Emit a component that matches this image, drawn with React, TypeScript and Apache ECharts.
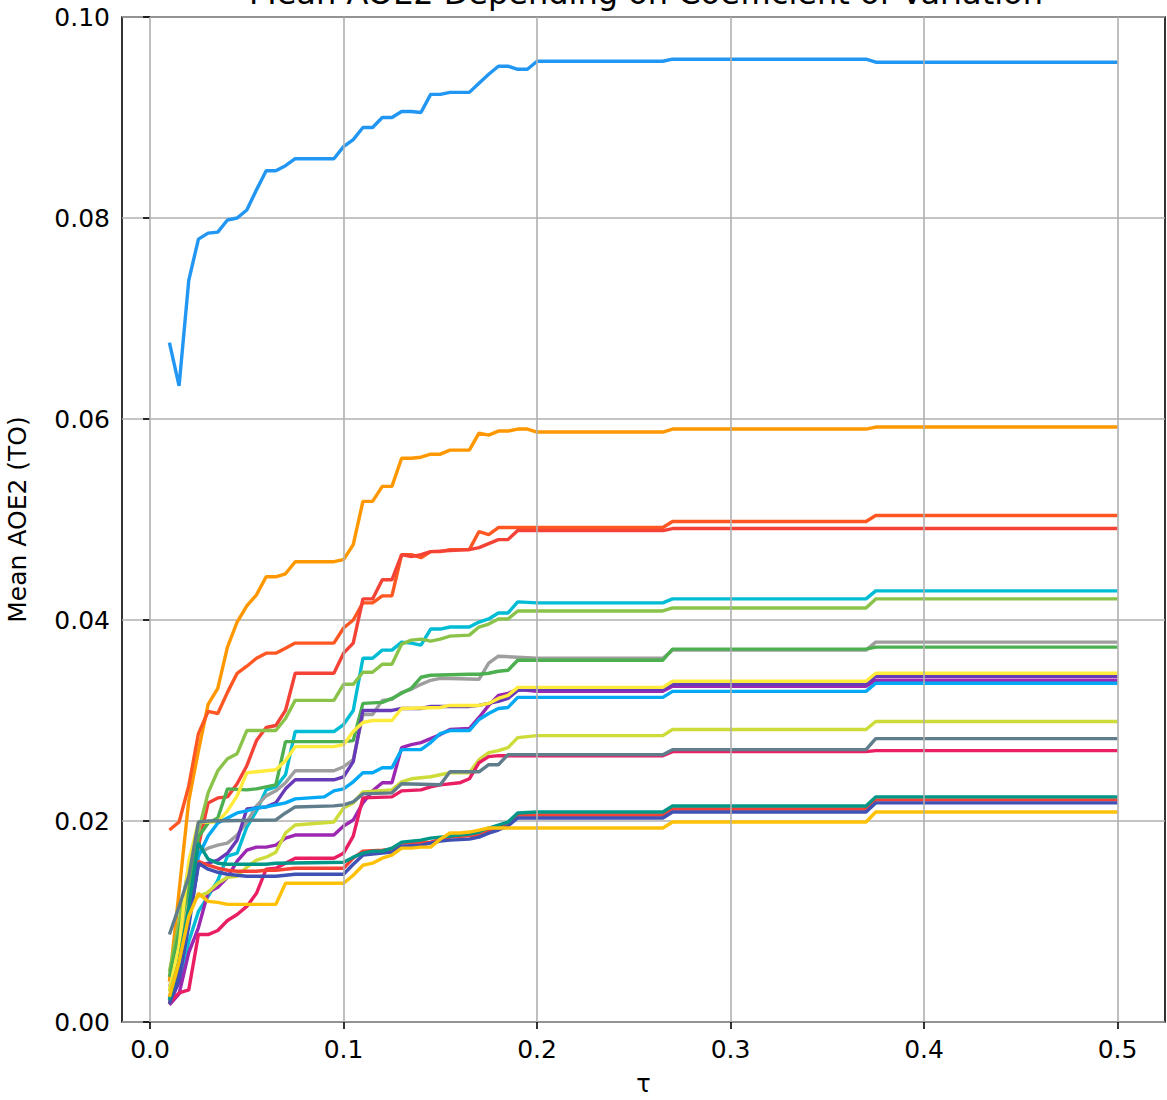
import React, { useEffect, useRef } from "react";
import * as echarts from "echarts";

const TITLE = "Mean AOE2 Depending on Coefficient of Variation";
const X_LABEL = "τ";
const Y_LABEL = "Mean AOE2 (TO)";
const X_TICKS = [0, 0.1, 0.2, 0.3, 0.4, 0.5];

const blue = [[0.01,0.0676],[0.015,0.0633],[0.02,0.0738],[0.025,0.0779],[0.03,0.0785],[0.035,0.0786],[0.04,0.0798],[0.045,0.08],[0.05,0.0808],[0.055,0.0828],[0.06,0.0847],[0.065,0.0847],[0.07,0.0852],[0.075,0.0859],[0.095,0.0859],[0.1,0.0871],[0.105,0.0878],[0.11,0.089],[0.115,0.089],[0.12,0.09],[0.125,0.09],[0.13,0.0906],[0.135,0.0906],[0.14,0.0905],[0.145,0.0923],[0.15,0.0923],[0.155,0.0925],[0.165,0.0925],[0.17,0.0934],[0.175,0.0943],[0.18,0.0951],[0.185,0.0951],[0.19,0.0948],[0.195,0.0948],[0.2,0.0956],[0.265,0.0956],[0.27,0.0958],[0.37,0.0958],[0.375,0.0955],[0.5,0.0955]];
const orange = [[0.01,0.004],[0.015,0.013],[0.02,0.022],[0.025,0.027],[0.03,0.0316],[0.035,0.0332],[0.04,0.0373],[0.045,0.0398],[0.05,0.0414],[0.055,0.0425],[0.06,0.0443],[0.065,0.0443],[0.07,0.0446],[0.075,0.0458],[0.095,0.0458],[0.1,0.046],[0.105,0.0475],[0.11,0.0518],[0.115,0.0518],[0.12,0.0533],[0.125,0.0533],[0.13,0.0561],[0.135,0.0561],[0.14,0.0562],[0.145,0.0565],[0.15,0.0565],[0.155,0.0569],[0.165,0.0569],[0.17,0.0586],[0.175,0.0584],[0.18,0.0588],[0.185,0.0588],[0.19,0.059],[0.195,0.059],[0.2,0.0587],[0.265,0.0587],[0.27,0.059],[0.37,0.059],[0.375,0.0592],[0.5,0.0592]];
const deepOrange = [[0.01,0.0191],[0.015,0.0199],[0.02,0.0235],[0.025,0.0287],[0.03,0.0309],[0.035,0.0307],[0.04,0.0328],[0.045,0.0347],[0.05,0.0354],[0.055,0.0362],[0.06,0.0367],[0.065,0.0367],[0.07,0.0372],[0.075,0.0377],[0.095,0.0377],[0.1,0.0392],[0.105,0.04],[0.11,0.0417],[0.115,0.0417],[0.12,0.0424],[0.125,0.0424],[0.13,0.0465],[0.135,0.0465],[0.14,0.0462],[0.145,0.0468],[0.15,0.0468],[0.155,0.047],[0.165,0.047],[0.17,0.0488],[0.175,0.0485],[0.18,0.0492],[0.2,0.0492],[0.265,0.0492],[0.27,0.0498],[0.37,0.0498],[0.375,0.0504],[0.5,0.0504]];
const red = [[0.01,0.0025],[0.015,0.0055],[0.02,0.011],[0.025,0.0175],[0.03,0.0218],[0.035,0.0223],[0.04,0.0224],[0.045,0.0237],[0.05,0.0255],[0.055,0.028],[0.06,0.0293],[0.065,0.0295],[0.07,0.031],[0.075,0.0347],[0.095,0.0347],[0.1,0.0367],[0.105,0.0377],[0.11,0.0421],[0.115,0.0421],[0.12,0.044],[0.125,0.044],[0.13,0.0465],[0.135,0.0463],[0.14,0.0465],[0.145,0.0468],[0.165,0.047],[0.17,0.0472],[0.175,0.0476],[0.18,0.048],[0.185,0.048],[0.19,0.0489],[0.265,0.0489],[0.27,0.0491],[0.5,0.0491]];
const cyan = [[0.01,0.002],[0.015,0.004],[0.02,0.008],[0.025,0.011],[0.03,0.0125],[0.035,0.0141],[0.04,0.0165],[0.045,0.0168],[0.05,0.0194],[0.055,0.021],[0.06,0.0231],[0.065,0.0234],[0.07,0.0246],[0.075,0.0289],[0.095,0.0289],[0.1,0.0296],[0.105,0.031],[0.11,0.0362],[0.115,0.0362],[0.12,0.037],[0.125,0.037],[0.13,0.0378],[0.135,0.0377],[0.14,0.0375],[0.145,0.0391],[0.15,0.0391],[0.155,0.0393],[0.165,0.0393],[0.17,0.0398],[0.175,0.0401],[0.18,0.0407],[0.185,0.0407],[0.19,0.0418],[0.2,0.0417],[0.265,0.0417],[0.27,0.0421],[0.37,0.0421],[0.375,0.0429],[0.5,0.0429]];
const lightGreen = [[0.01,0.005],[0.015,0.01],[0.02,0.0155],[0.025,0.019],[0.03,0.0228],[0.035,0.025],[0.04,0.0262],[0.045,0.0267],[0.05,0.029],[0.065,0.029],[0.07,0.0302],[0.075,0.032],[0.095,0.032],[0.1,0.0336],[0.105,0.0336],[0.11,0.0348],[0.115,0.0348],[0.12,0.0356],[0.125,0.0356],[0.13,0.0376],[0.135,0.038],[0.14,0.0381],[0.145,0.0379],[0.15,0.0381],[0.155,0.0384],[0.165,0.0385],[0.17,0.0393],[0.175,0.0396],[0.18,0.0401],[0.185,0.0401],[0.19,0.0409],[0.265,0.0409],[0.27,0.0412],[0.37,0.0412],[0.375,0.0421],[0.5,0.0421]];
const grey = [[0.01,0.0035],[0.015,0.0065],[0.02,0.0125],[0.025,0.0168],[0.03,0.0173],[0.035,0.0176],[0.04,0.0178],[0.045,0.0186],[0.05,0.0199],[0.055,0.0215],[0.06,0.0225],[0.065,0.023],[0.07,0.0238],[0.075,0.025],[0.095,0.025],[0.1,0.0254],[0.105,0.0261],[0.11,0.0306],[0.115,0.0306],[0.12,0.032],[0.125,0.0321],[0.13,0.0328],[0.135,0.0331],[0.14,0.0336],[0.145,0.034],[0.15,0.0342],[0.17,0.0341],[0.175,0.0357],[0.18,0.0364],[0.19,0.0363],[0.2,0.0362],[0.265,0.0362],[0.27,0.037],[0.37,0.037],[0.375,0.0378],[0.5,0.0378]];
const green = [[0.01,0.0045],[0.015,0.009],[0.02,0.0135],[0.025,0.0184],[0.03,0.0198],[0.035,0.0203],[0.04,0.0232],[0.05,0.0231],[0.055,0.0232],[0.06,0.0234],[0.065,0.0236],[0.07,0.0279],[0.1,0.0279],[0.105,0.028],[0.11,0.0317],[0.12,0.0318],[0.125,0.0322],[0.13,0.0327],[0.135,0.0332],[0.14,0.0343],[0.145,0.0345],[0.165,0.0346],[0.17,0.0346],[0.175,0.0347],[0.18,0.0349],[0.185,0.035],[0.19,0.036],[0.265,0.036],[0.27,0.0371],[0.37,0.0371],[0.375,0.0373],[0.5,0.0373]];
const yellow = [[0.01,0.0032],[0.015,0.0075],[0.02,0.016],[0.025,0.0199],[0.035,0.0199],[0.04,0.021],[0.045,0.0225],[0.05,0.0248],[0.055,0.0249],[0.06,0.025],[0.065,0.0251],[0.07,0.026],[0.075,0.0274],[0.095,0.0274],[0.1,0.0276],[0.105,0.0289],[0.11,0.0298],[0.115,0.03],[0.125,0.03],[0.13,0.0312],[0.15,0.0313],[0.155,0.0315],[0.17,0.0315],[0.175,0.0317],[0.18,0.0322],[0.185,0.0325],[0.19,0.0333],[0.265,0.0333],[0.27,0.0339],[0.37,0.0339],[0.375,0.0347],[0.5,0.0347]];
const deepPurple = [[0.01,0.0018],[0.015,0.004],[0.02,0.01],[0.025,0.0156],[0.03,0.0158],[0.035,0.0161],[0.04,0.0168],[0.045,0.0181],[0.05,0.0212],[0.055,0.0213],[0.06,0.0214],[0.065,0.0218],[0.07,0.0232],[0.075,0.0241],[0.095,0.0241],[0.1,0.0244],[0.105,0.0259],[0.11,0.031],[0.125,0.031],[0.13,0.0312],[0.14,0.0312],[0.145,0.0314],[0.165,0.0314],[0.17,0.0315],[0.175,0.0317],[0.18,0.0319],[0.185,0.0322],[0.19,0.033],[0.2,0.0331],[0.265,0.0331],[0.27,0.0336],[0.37,0.0336],[0.375,0.0344],[0.5,0.0344]];
const purple = [[0.01,0.0017],[0.015,0.0028],[0.02,0.0069],[0.025,0.0094],[0.03,0.0129],[0.035,0.0134],[0.04,0.0144],[0.045,0.016],[0.05,0.0171],[0.055,0.0174],[0.06,0.0174],[0.065,0.0176],[0.07,0.0183],[0.075,0.0186],[0.095,0.0186],[0.1,0.0195],[0.105,0.0201],[0.11,0.0218],[0.115,0.023],[0.12,0.0238],[0.125,0.0238],[0.13,0.0273],[0.135,0.0276],[0.14,0.0278],[0.145,0.0282],[0.15,0.0286],[0.155,0.0291],[0.165,0.0292],[0.17,0.0303],[0.175,0.0315],[0.18,0.0325],[0.185,0.0327],[0.19,0.0331],[0.2,0.0329],[0.265,0.0329],[0.27,0.0334],[0.37,0.0334],[0.375,0.034],[0.5,0.034]];
const lightBlue = [[0.01,0.0022],[0.015,0.006],[0.02,0.011],[0.025,0.0165],[0.03,0.0185],[0.035,0.0198],[0.04,0.0203],[0.045,0.0208],[0.05,0.021],[0.055,0.0213],[0.06,0.0214],[0.065,0.0216],[0.07,0.0218],[0.075,0.0222],[0.09,0.0224],[0.095,0.023],[0.1,0.0232],[0.105,0.0239],[0.11,0.0248],[0.115,0.0248],[0.12,0.0253],[0.125,0.0253],[0.13,0.0271],[0.14,0.0271],[0.145,0.0278],[0.15,0.0287],[0.155,0.029],[0.165,0.029],[0.17,0.0301],[0.175,0.0307],[0.18,0.0312],[0.185,0.0313],[0.19,0.0323],[0.265,0.0323],[0.27,0.0329],[0.37,0.0329],[0.375,0.0337],[0.5,0.0337]];
const lime = [[0.01,0.003],[0.015,0.006],[0.02,0.0118],[0.025,0.0125],[0.03,0.0129],[0.035,0.0138],[0.04,0.0144],[0.045,0.0145],[0.05,0.0154],[0.055,0.0161],[0.06,0.0164],[0.065,0.0169],[0.07,0.0188],[0.075,0.0196],[0.095,0.0199],[0.1,0.0213],[0.105,0.0218],[0.11,0.0229],[0.125,0.0231],[0.13,0.0239],[0.135,0.0242],[0.14,0.0243],[0.145,0.0244],[0.15,0.0246],[0.155,0.0248],[0.165,0.0248],[0.17,0.0261],[0.175,0.0268],[0.18,0.027],[0.185,0.0273],[0.19,0.0283],[0.2,0.0285],[0.265,0.0285],[0.27,0.0291],[0.37,0.0291],[0.375,0.0299],[0.5,0.0299]];
const blueGrey = [[0.01,0.0087],[0.015,0.0115],[0.02,0.0145],[0.025,0.0199],[0.03,0.02],[0.065,0.0201],[0.07,0.0208],[0.075,0.0214],[0.095,0.0215],[0.1,0.0216],[0.105,0.0219],[0.11,0.0227],[0.125,0.0228],[0.13,0.0237],[0.15,0.0236],[0.155,0.0249],[0.17,0.0249],[0.175,0.0256],[0.18,0.0256],[0.185,0.0266],[0.265,0.0266],[0.27,0.0271],[0.37,0.0271],[0.375,0.0282],[0.5,0.0282]];
const pink = [[0.01,0.0019],[0.015,0.0029],[0.02,0.0032],[0.025,0.0087],[0.03,0.0087],[0.035,0.0091],[0.04,0.0101],[0.045,0.0107],[0.05,0.0115],[0.055,0.0128],[0.06,0.0152],[0.065,0.0153],[0.07,0.0158],[0.075,0.0163],[0.095,0.0163],[0.1,0.0168],[0.105,0.0185],[0.11,0.0223],[0.125,0.0224],[0.13,0.023],[0.14,0.0231],[0.145,0.0234],[0.15,0.0236],[0.16,0.0238],[0.165,0.0242],[0.17,0.0258],[0.175,0.0264],[0.18,0.0265],[0.265,0.0265],[0.27,0.0269],[0.37,0.0269],[0.375,0.027],[0.5,0.027]];
const teal = [[0.01,0.0022],[0.015,0.006],[0.02,0.0115],[0.025,0.0178],[0.03,0.0162],[0.035,0.0158],[0.04,0.0157],[0.06,0.0157],[0.065,0.0158],[0.1,0.0159],[0.105,0.0164],[0.11,0.0168],[0.115,0.017],[0.12,0.017],[0.125,0.0173],[0.13,0.0179],[0.135,0.018],[0.14,0.0181],[0.145,0.0183],[0.15,0.0184],[0.16,0.0186],[0.165,0.0187],[0.17,0.0189],[0.175,0.0193],[0.18,0.0196],[0.185,0.0199],[0.19,0.0208],[0.2,0.0209],[0.265,0.0209],[0.27,0.0215],[0.37,0.0215],[0.375,0.0224],[0.5,0.0224]];
const red2 = [[0.01,0.0018],[0.015,0.005],[0.02,0.011],[0.025,0.016],[0.03,0.0156],[0.035,0.0153],[0.04,0.0151],[0.045,0.015],[0.055,0.015],[0.06,0.0151],[0.065,0.0151],[0.07,0.0152],[0.075,0.0153],[0.1,0.0153],[0.105,0.0163],[0.11,0.017],[0.12,0.0171],[0.125,0.0172],[0.13,0.0178],[0.145,0.0179],[0.155,0.0184],[0.17,0.0186],[0.175,0.019],[0.18,0.0194],[0.185,0.0198],[0.19,0.0206],[0.265,0.0206],[0.27,0.0212],[0.37,0.0212],[0.375,0.0221],[0.5,0.0221]];
const indigo = [[0.01,0.0018],[0.015,0.0045],[0.02,0.0095],[0.025,0.0158],[0.03,0.0152],[0.035,0.0149],[0.04,0.0147],[0.045,0.0146],[0.05,0.0145],[0.065,0.0145],[0.07,0.0146],[0.075,0.0147],[0.1,0.0147],[0.105,0.0157],[0.11,0.0166],[0.115,0.0167],[0.12,0.0168],[0.125,0.0169],[0.13,0.0175],[0.14,0.0176],[0.145,0.0178],[0.15,0.018],[0.155,0.0181],[0.165,0.0182],[0.17,0.0184],[0.175,0.0188],[0.18,0.0191],[0.185,0.0195],[0.19,0.0203],[0.265,0.0203],[0.27,0.0209],[0.37,0.0209],[0.375,0.0218],[0.5,0.0218]];
const amber = [[0.01,0.0025],[0.015,0.006],[0.02,0.0105],[0.025,0.0128],[0.03,0.012],[0.035,0.0119],[0.04,0.0117],[0.065,0.0117],[0.07,0.0138],[0.1,0.0138],[0.105,0.0146],[0.11,0.0156],[0.115,0.0158],[0.12,0.0163],[0.125,0.0166],[0.13,0.0173],[0.135,0.0173],[0.14,0.0174],[0.145,0.0174],[0.15,0.0182],[0.155,0.0188],[0.16,0.0188],[0.165,0.0189],[0.17,0.0191],[0.175,0.0193],[0.265,0.0193],[0.27,0.0199],[0.37,0.0199],[0.375,0.0209],[0.5,0.0209]];

const SERIES: [string, number[][]][] = [
  ["#2196F3", blue],
  ["#FF9800", orange],
  ["#FF5722", deepOrange],
  ["#F44336", red],
  ["#00BCD4", cyan],
  ["#8BC34A", lightGreen],
  ["#9E9E9E", grey],
  ["#4CAF50", green],
  ["#9C27B0", purple],
  ["#673AB7", deepPurple],
  ["#FFEB3B", yellow],
  ["#03A9F4", lightBlue],
  ["#CDDC39", lime],
  ["#E91E63", pink],
  ["#607D8B", blueGrey],
  ["#F44336", red2],
  ["#3F51B5", indigo],
  ["#009688", teal],
  ["#FFC107", amber],
];

const FONT = "DejaVu Sans";

export default function App() {
  const ref = useRef<HTMLDivElement>(null);
  useEffect(() => {
    if (!ref.current) return;
    const chart = echarts.init(ref.current, null, { renderer: "svg" });
    const option: any = {
      animation: false,
      textStyle: { fontFamily: FONT },
      grid: {
        left: 122, right: 2, top: 17, bottom: 78,
        containLabel: false, outerBoundsMode: "none",
        show: true, borderColor: "#000", borderWidth: 1.6, backgroundColor: "transparent",
      },
      graphic: [
        {
          type: "text", x: 646, y: -7, z: 100,
          style: {
            text: TITLE, fontFamily: FONT, fontSize: 32, fill: "#000",
            textAlign: "center", textVerticalAlign: "middle",
          },
        },
      ],
      xAxis: {
        type: "value", min: -0.0145, max: 0.5245,
        name: X_LABEL, nameLocation: "middle", nameGap: 50,
        nameTextStyle: { fontSize: 24, color: "#000", fontFamily: FONT },
        axisLine: { show: false },
        axisTick: { show: true, inside: false, length: 7, lineStyle: { color: "#000", width: 1.6 }, customValues: X_TICKS },
        axisLabel: { customValues: X_TICKS, formatter: (v: number) => v.toFixed(1), fontSize: 25, color: "#000", margin: 15, fontFamily: FONT },
        splitLine: { show: false },
      },
      yAxis: {
        type: "value", min: 0, max: 0.1, interval: 0.02,
        name: Y_LABEL, nameLocation: "middle", nameGap: 92,
        nameTextStyle: { fontSize: 25, color: "#000", fontFamily: FONT },
        axisLine: { show: false },
        axisTick: { show: true, inside: false, length: 7, lineStyle: { color: "#000", width: 1.6 } },
        axisLabel: { formatter: (v: number) => v.toFixed(2), fontSize: 25, color: "#000", margin: 12, fontFamily: FONT },
        splitLine: { show: true, lineStyle: { color: "#b0b0b0", width: 1.6 } },
      },
      series: [
        {
          type: "line", data: [], z: 1, silent: true,
          markLine: {
            silent: true, symbol: ["none", "none"], label: { show: false },
            lineStyle: { color: "#b0b0b0", width: 1.6, type: "solid" },
            data: X_TICKS.map((v) => ({ xAxis: v })),
          },
        },
        ...SERIES.map(([color, data]) => ({
          type: "line", data, z: 3, symbol: "none", showSymbol: false, silent: true,
          lineStyle: { color, width: 3.4 }, itemStyle: { color },
        })),
      ],
    };
    chart.setOption(option);
    return () => chart.dispose();
  }, []);
  return <div ref={ref} style={{ position: "absolute", left: 0, top: 0, width: 1167, height: 1100 }} />;
}
